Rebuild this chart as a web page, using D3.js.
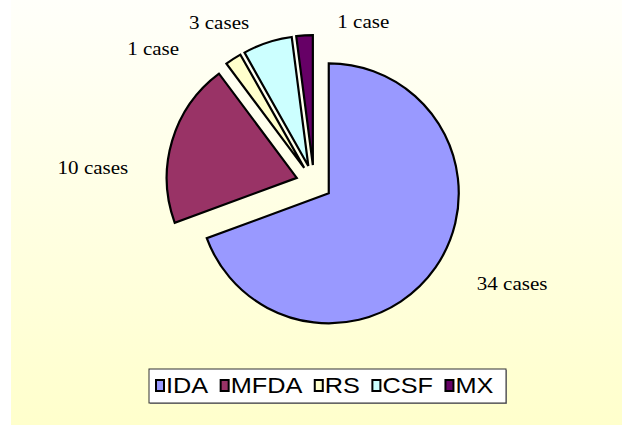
<!DOCTYPE html>
<html><head><meta charset="utf-8">
<script src="https://cdn.jsdelivr.net/npm/d3@7"></script>
<style>body{margin:0;background:#fff;overflow:hidden}</style>
</head><body><svg id="c" width="622" height="425"></svg>
<script>
const categories = ["IDA", "MFDA", "RS", "CSF", "MX"];
const values = [34, 10, 1, 3, 1];
const labels = ["34 cases", "10 cases", "1 case", "3 cases", "1 case"];
const colors = ["#9999ff", "#993366", "#ffffcc", "#ccffff", "#660066"];

// layout (not data)
const W = 622, H = 425, cx = 314, cy = 183, R = 130, explode = 18;
const labelPolar = [[116.8, 222], [274, 221.6], [310, 210], [329.5, 187], [17, 168.6]]; // degrees, radius

const svg = d3.select("#c");
const defs = svg.append("defs");
const g = defs.append("linearGradient").attr("id", "bg").attr("x1", 0).attr("y1", 0).attr("x2", 0).attr("y2", 1);
g.append("stop").attr("offset", "0%").attr("stop-color", "#fffffa");
g.append("stop").attr("offset", "100%").attr("stop-color", "#ffffcc");

svg.append("rect").attr("width", W).attr("height", H).attr("fill", "#fff");
svg.append("rect").attr("x", 11).attr("y", 0).attr("width", W - 11).attr("height", H).attr("fill", "url(#bg)");

const pie = d3.pie().sort(null).value(d => d);
const arcs = pie(values);
const arc = d3.arc().innerRadius(0).outerRadius(R);

const pieG = svg.append("g").attr("transform", `translate(${cx},${cy})`);
pieG.selectAll("path").data(arcs).join("path")
  .attr("d", arc)
  .attr("transform", d => {
    const m = (d.startAngle + d.endAngle) / 2;
    return `translate(${Math.sin(m) * explode},${-Math.cos(m) * explode})`;
  })
  .attr("fill", (d, i) => colors[i])
  .attr("stroke", "#000")
  .attr("stroke-width", 2.2)
  .attr("stroke-linejoin", "miter");

pieG.selectAll("text").data(arcs).join("text")
  .attr("transform", (d, i) => {
    const a = labelPolar[i][0] * Math.PI / 180, r = labelPolar[i][1];
    return `translate(${Math.sin(a) * r},${-Math.cos(a) * r}) scale(1.08,1)`;
  })
  .attr("text-anchor", "middle")
  .attr("dominant-baseline", "central")
  .attr("font-family", "'Liberation Serif', 'Times New Roman', serif")
  .attr("font-size", 19.5)
  .attr("fill", "#000")
  .text((d, i) => labels[i]);

// legend
const lg = svg.append("g");
const boxX = 149, boxY = 369, boxW = 357, boxH = 34;
lg.append("rect").attr("x", boxX + 1).attr("y", boxY + 1).attr("width", boxW).attr("height", boxH).attr("fill", "#999");
lg.append("rect").attr("x", boxX).attr("y", boxY).attr("width", boxW).attr("height", boxH)
  .attr("fill", "#fff").attr("stroke", "#333").attr("stroke-width", 1);
let x = boxX + 6;
const sx = 1.15;
categories.forEach((c, i) => {
  lg.append("rect").attr("x", x + 1).attr("y", 380).attr("width", 8).attr("height", 11)
    .attr("fill", colors[i]).attr("stroke", "#000").attr("stroke-width", 2);
  x += 11;
  const t = lg.append("text")
    .attr("transform", `translate(${x},392.5) scale(${sx},1)`)
    .attr("font-family", "'Liberation Sans', Arial, sans-serif")
    .attr("font-size", 22)
    .attr("fill", "#000")
    .text(c);
  x += t.node().getComputedTextLength() * sx + 11.5;
});
</script></body></html>
